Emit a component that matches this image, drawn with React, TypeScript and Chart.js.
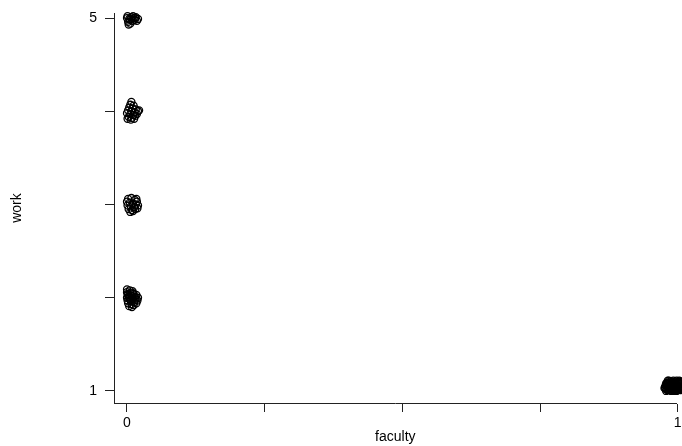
import React, { useEffect, useRef } from "react";
import { Chart, registerables } from "chart.js";

Chart.register(...registerables);

// Tick values and labels
const xTickValues = [0, 0.25, 0.5, 0.75, 1];
const xTickLabels = ["0", "", "", "", "1"];
const yTickValues = [1, 2, 3, 4, 5];
const yTickLabels = ["1", "", "", "", "5"];

const faculty5 = [0.000, 0.004, 0.008, 0.012, 0.016, 0.020, 0.002, 0.006, 0.010, 0.014, 0.018, 0.001, 0.011, 0.005, 0.015, 0.003];
const work5 = [5.00, 4.99, 5.01, 5.00, 5.01, 4.99, 4.96, 4.94, 4.97, 4.98, 4.97, 5.02, 5.02, 4.98, 5.00, 4.93];

const faculty4 = [0.008, 0.006, 0.012, 0.004, 0.010, 0.016, 0.002, 0.008, 0.014, 0.020, 0.000, 0.006, 0.012, 0.018, 0.003, 0.009, 0.015, 0.001, 0.007, 0.013, 0.022];
const work4 = [4.10, 4.07, 4.06, 4.04, 4.03, 4.02, 4.01, 4.00, 3.99, 4.00, 3.98, 3.97, 3.96, 3.97, 3.94, 3.93, 3.95, 3.92, 3.91, 3.92, 4.01];

const faculty3 = [0.002, 0.008, 0.014, 0.018, 0.000, 0.005, 0.011, 0.016, 0.020, 0.001, 0.007, 0.013, 0.019, 0.003, 0.009, 0.015, 0.006, 0.011, 0.017];
const work3 = [3.06, 3.07, 3.05, 3.03, 3.03, 3.02, 3.01, 3.00, 2.99, 2.99, 2.98, 2.97, 2.96, 2.95, 2.94, 2.95, 2.92, 2.93, 3.06];

const faculty2 = [0.000, 0.005, 0.010, 0.000, 0.006, 0.012, 0.017, 0.002, 0.008, 0.014, 0.020, 0.000, 0.004, 0.010, 0.016, 0.019, 0.001, 0.007, 0.013, 0.017, 0.002, 0.008, 0.012, 0.004, 0.009, 0.003, 0.011, 0.006, 0.015, 0.001];
const work2 = [2.09, 2.08, 2.07, 2.06, 2.05, 2.04, 2.03, 2.03, 2.02, 2.01, 2.00, 2.00, 1.99, 1.99, 1.98, 1.97, 1.97, 1.96, 1.95, 1.94, 1.94, 1.93, 1.92, 1.91, 1.90, 2.01, 2.05, 1.98, 2.00, 2.04];

const faculty1 = [0.978, 0.980, 0.982, 0.984, 0.986, 0.988, 0.990, 0.992, 0.994, 0.996, 0.998, 1.000, 1.002, 1.004, 1.006, 1.008, 0.979, 0.983, 0.987, 0.991, 0.995, 0.999, 1.003, 1.007, 0.981, 0.985, 0.989, 0.993, 0.997, 1.001, 1.005, 1.009, 0.976, 0.983, 0.988, 0.992, 0.996, 1.000, 1.004, 1.008, 0.985, 0.990, 0.994, 0.998, 1.002, 1.006, 0.980, 0.986, 0.993, 1.003,
  0.977, 0.981, 0.984, 0.987, 0.990, 0.993, 0.996, 0.999, 1.002, 1.005, 1.008, 0.979, 0.982, 0.986, 0.989, 0.992, 0.995, 0.998, 1.001, 1.004, 1.007, 0.978, 0.984, 0.991, 0.997, 1.003, 1.009, 0.982, 0.988, 0.995];
const work1 = [1.02, 1.05, 1.08, 1.01, 1.04, 1.07, 1.10, 1.02, 1.05, 1.08, 1.11, 1.01, 1.04, 1.07, 1.10, 1.03, 1.00, 1.03, 1.06, 1.09, 1.00, 1.03, 1.06, 1.09, 1.01, 1.06, 1.03, 1.00, 1.04, 1.08, 1.01, 1.05, 1.03, 1.09, 1.00, 1.11, 1.02, 1.06, 1.10, 1.00, 1.02, 1.06, 1.09, 1.00, 1.02, 1.05, 1.07, 1.10, 1.04, 1.11,
  1.04, 1.09, 1.06, 1.02, 1.08, 1.07, 1.10, 1.05, 1.09, 1.03, 1.07, 1.08, 1.05, 1.08, 1.09, 1.04, 1.06, 1.07, 1.10, 1.04, 1.02, 1.06, 1.11, 1.01, 1.06, 1.03, 1.08, 1.11, 1.05, 1.01];

const facultyAll = [...faculty5, ...faculty4, ...faculty3, ...faculty2, ...faculty1];
const workAll = [...work5, ...work4, ...work3, ...work2, ...work1];

const FONT = "Liberation Sans, Arial, sans-serif";

export default function App() {
  const ref = useRef<HTMLCanvasElement | null>(null);

  useEffect(() => {
    if (!ref.current) return;
    const points = facultyAll.map((x, i) => ({ x, y: workAll[i] }));
    const axisColor = "#222";
    const chart = new Chart(ref.current, {
      type: "scatter",
      data: {
        datasets: [
          {
            data: points,
            pointStyle: "circle",
            pointRadius: 3.5,
            pointBorderWidth: 1.3,
            pointBorderColor: "#000",
            pointBackgroundColor: "rgba(0,0,0,0)",
            clip: false as any,
          },
        ],
      },
      options: {
        animation: false,
        responsive: false,
        maintainAspectRatio: false,
        layout: { padding: { top: 13, left: 0, right: 0, bottom: 0 } },
        plugins: { legend: { display: false }, tooltip: { enabled: false } },
        scales: {
          x: {
            type: "linear",
            min: -0.0236,
            max: 0.9982,
            afterBuildTicks: (s: any) => {
              s.ticks = xTickValues.map((v) => ({ value: v }));
            },
            afterFit: (s: any) => {
              s.height = 43;
              s.paddingLeft = 0;
              s.paddingRight = 0;
            },
            ticks: {
              autoSkip: false,
              maxRotation: 0,
              color: "#000",
              padding: 3,
              font: { family: FONT, size: 14 },
              callback: (v: any) => {
                const i = xTickValues.indexOf(Number(v));
                return i >= 0 ? xTickLabels[i] : "";
              },
            },
            grid: { drawOnChartArea: false, drawTicks: true, tickLength: 9, color: axisColor },
            border: { display: true, color: axisColor, width: 1 },
            title: {
              display: true,
              text: "faculty",
              color: "#000",
              font: { family: FONT, size: 14 },
              padding: { top: 0, bottom: 0 },
            },
          },
          y: {
            type: "linear",
            min: 0.871,
            max: 5.054,
            afterBuildTicks: (s: any) => {
              s.ticks = yTickValues.map((v) => ({ value: v }));
            },
            afterFit: (s: any) => {
              s.width = 114;
              s.paddingTop = 0;
              s.paddingBottom = 0;
            },
            ticks: {
              autoSkip: false,
              color: "#000",
              padding: 8,
              font: { family: FONT, size: 14 },
              callback: (v: any) => {
                const i = yTickValues.indexOf(Number(v));
                return i >= 0 ? yTickLabels[i] : "";
              },
            },
            grid: { drawOnChartArea: false, drawTicks: true, tickLength: 9, color: axisColor },
            border: { display: true, color: axisColor, width: 1 },
            title: {
              display: true,
              text: "work",
              color: "#000",
              font: { family: FONT, size: 14 },
              padding: { top: 9, bottom: 0 },
            },
          },
        },
      },
    });
    return () => chart.destroy();
  }, []);

  return (
    <div style={{ position: "fixed", left: 0, top: 0, width: 682, height: 446, background: "#fff" }}>
      <canvas ref={ref} width={682} height={446} style={{ width: 682, height: 446 }} />
    </div>
  );
}
